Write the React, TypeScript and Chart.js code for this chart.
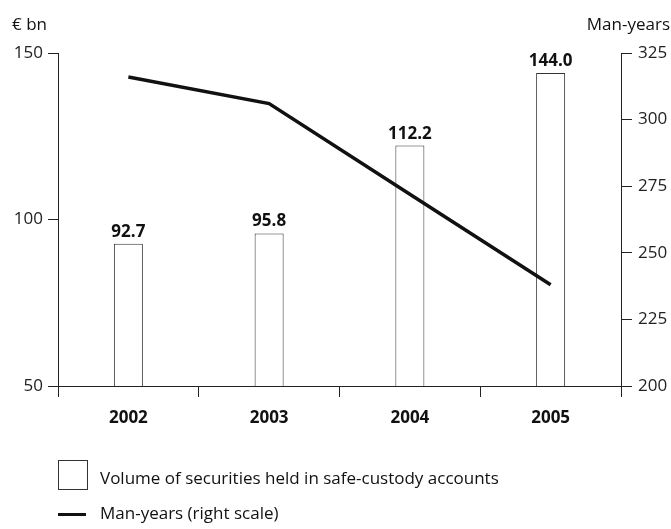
import React, { useEffect, useRef } from 'react';
import { Chart, registerables } from 'chart.js';

Chart.register(...registerables);

const FONT = "'Open Sans', 'Noto Sans', sans-serif";

const years = ['2002', '2003', '2004', '2005'];
const securitiesVolume = [92.7, 95.8, 122.2, 144.0];
const volumeLabels = ['92.7', '95.8', '112.2', '144.0'];
const manYears = [316, 306, 272, 238];
const leftTicks = [50, 100, 150];
const rightTicks = [200, 225, 250, 275, 300, 325];

const extrasPlugin = {
  id: 'extras',
  afterDatasetsDraw(chart: any) {
    const ctx = chart.ctx;
    ctx.save();
    const meta = chart.getDatasetMeta(1);
    ctx.fillStyle = '#111';
    ctx.font = `bold 17px ${FONT}`;
    ctx.textAlign = 'center';
    ctx.textBaseline = 'alphabetic';
    meta.data.forEach((bar: any, i: number) => {
      ctx.fillText(volumeLabels[i], bar.x, bar.y - 7);
    });
    ctx.font = `17px ${FONT}`;
    ctx.textAlign = 'left';
    ctx.fillText('€ bn', 12, 30);
    ctx.textAlign = 'right';
    ctx.fillText('Man-years', 670, 30);
    // legend
    ctx.strokeStyle = '#333';
    ctx.lineWidth = 1;
    ctx.strokeRect(58.5, 460.5, 29, 29);
    ctx.textAlign = 'left';
    ctx.fillText('Volume of securities held in safe-custody accounts', 100, 484);
    ctx.strokeStyle = '#111';
    ctx.lineWidth = 3;
    ctx.beginPath();
    ctx.moveTo(58, 514.5);
    ctx.lineTo(86, 514.5);
    ctx.stroke();
    ctx.fillText('Man-years (right scale)', 100, 519);
    ctx.restore();
  },
};

export default function App() {
  const ref = useRef<HTMLCanvasElement>(null);
  useEffect(() => {
    if (!ref.current) return;
    const chart = new Chart(ref.current, {
      type: 'bar',
      data: {
        labels: years,
        datasets: [
          {
            type: 'line',
            label: 'Man-years (right scale)',
            data: manYears,
            yAxisID: 'y2',
            borderColor: '#111',
            borderWidth: 3.5,
            pointRadius: 0,
            tension: 0,
            order: 0,
          } as any,
          {
            type: 'bar',
            label: 'Volume of securities held in safe-custody accounts',
            data: securitiesVolume,
            yAxisID: 'y',
            backgroundColor: '#ffffff',
            borderColor: '#333',
            borderWidth: 1,
            barPercentage: 0.206,
            categoryPercentage: 1,
            order: 1,
          },
        ],
      },
      options: {
        responsive: false,
        animation: false,
        layout: { padding: { top: 53, left: 0, right: 0, bottom: 0 } },
        plugins: { legend: { display: false }, tooltip: { enabled: false } },
        scales: {
          x: {
            offset: true,
            grid: {
              offset: true,
              drawOnChartArea: false,
              drawTicks: true,
              tickLength: 11,
              color: '#222',
            },
            border: { display: true, color: '#222', width: 1 },
            ticks: {
              color: '#111',
              padding: 11,
              font: { family: FONT, size: 17, weight: 'bold' },
            },
            afterFit: (s: any) => {
              s.height = 143;
            },
          },
          y: {
            position: 'left',
            min: leftTicks[0],
            max: leftTicks[leftTicks.length - 1],
            ticks: {
              stepSize: leftTicks[1] - leftTicks[0],
              color: '#222',
              padding: 5,
              font: { family: FONT, size: 17 },
            },
            grid: { drawOnChartArea: false, drawTicks: true, tickLength: 10, color: '#222' },
            border: { display: true, color: '#222', width: 1 },
            afterFit: (s: any) => {
              s.width = 58;
            },
          },
          y2: {
            position: 'right',
            min: rightTicks[0],
            max: rightTicks[rightTicks.length - 1],
            ticks: {
              stepSize: rightTicks[1] - rightTicks[0],
              color: '#222',
              padding: 6,
              font: { family: FONT, size: 17 },
            },
            grid: { drawOnChartArea: false, drawTicks: true, tickLength: 11, color: '#222' },
            border: { display: true, color: '#222', width: 1 },
            afterFit: (s: any) => {
              s.width = 50;
            },
          },
        },
      },
      plugins: [extrasPlugin],
    });
    return () => chart.destroy();
  }, []);
  return (
    <div style={{ position: 'absolute', left: 0, top: 0, width: 671, height: 529, background: '#fff' }}>
      <canvas ref={ref} width={671} height={529} style={{ width: 671, height: 529, display: 'block' }} />
    </div>
  );
}
